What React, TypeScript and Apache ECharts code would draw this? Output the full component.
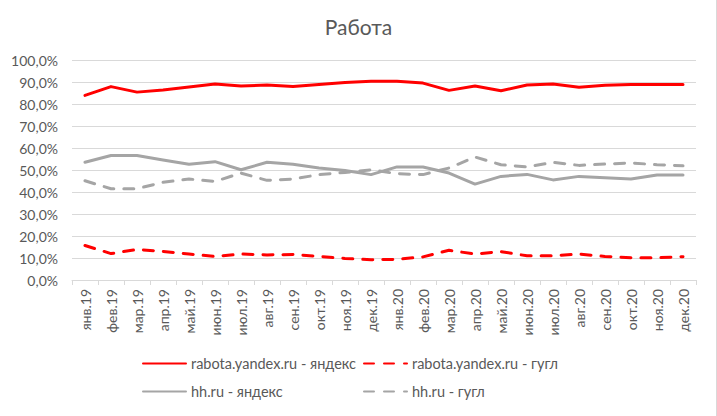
import React, { useEffect, useRef } from "react";
import * as echarts from "echarts";

const categories = [
  "янв.19", "фев.19", "мар.19", "апр.19", "май.19", "июн.19", "июл.19", "авг.19", "сен.19", "окт.19", "ноя.19", "дек.19",
  "янв.20", "фев.20", "мар.20", "апр.20", "май.20", "июн.20", "июл.20", "авг.20", "сен.20", "окт.20", "ноя.20", "дек.20",
];

const rabotaYandex = [
  83.9, 87.9, 85.4, 86.4, 87.7, 89.1, 88.2, 88.6, 88.0, 88.9, 89.8, 90.3,
  90.3, 89.5, 86.2, 88.2, 86.0, 88.6, 89.1, 87.6, 88.5, 88.9, 88.9, 88.9,
];
const rabotaGoogle = [
  15.7, 12.0, 13.9, 13.0, 11.8, 10.7, 11.8, 11.4, 11.6, 10.7, 9.8, 9.2,
  9.4, 10.5, 13.5, 11.8, 12.9, 11.0, 11.0, 11.8, 10.7, 10.1, 10.1, 10.6,
];
const hhYandex = [
  53.5, 56.6, 56.6, 54.5, 52.6, 53.8, 50.1, 53.5, 52.6, 50.9, 49.8, 47.9,
  51.4, 51.4, 48.6, 43.6, 47.1, 48.0, 45.5, 47.1, 46.5, 45.9, 47.7, 47.7,
];
const hhGoogle = [
  45.1, 41.5, 41.5, 44.4, 45.9, 44.8, 48.6, 45.3, 45.9, 47.9, 48.9, 50.1,
  48.3, 47.9, 50.9, 55.9, 52.4, 51.4, 53.5, 52.1, 52.7, 53.2, 52.4, 51.9,
];

const seriesNames = [
  "rabota.yandex.ru - яндекс",
  "rabota.yandex.ru - гугл",
  "hh.ru - яндекс",
  "hh.ru - гугл",
];

const FONT = "Lato, 'Noto Sans', sans-serif";
const TEXT = "#595959";
const RED = "#FF0000";
const GRAY = "#A5A5A5";

export default function App() {
  const ref = useRef<HTMLDivElement>(null);
  useEffect(() => {
    if (!ref.current) return;
    const chart = echarts.init(ref.current, undefined, { renderer: "svg" });
    const dash = [10, 10];
    const mkLegend = (name: string, left: number, top: number) => ({
      show: true,
      data: [name],
      left,
      top,
      orient: "horizontal",
      itemWidth: 43,
      itemHeight: 14,
      padding: 0,
      selectedMode: false,
      itemStyle: { opacity: 0 },
      textStyle: { color: TEXT, fontSize: 14.5, fontFamily: FONT },
    });
    chart.setOption({
      animation: false,
      backgroundColor: "#ffffff",
      title: {
        text: "Работа",
        left: "center",
        top: 11,
        textStyle: { color: TEXT, fontSize: 21, fontWeight: "normal", fontFamily: FONT },
      },
      legend: [
        mkLegend(seriesNames[0], 142, 356),
        mkLegend(seriesNames[1], 363, 356),
        mkLegend(seriesNames[2], 142, 384),
        mkLegend(seriesNames[3], 363, 384),
      ],
      grid: { left: 72, right: 21, top: 60, bottom: 136, containLabel: false },
      xAxis: {
        type: "category",
        data: categories,
        boundaryGap: true,
        axisLine: { lineStyle: { color: "#D9D9D9", width: 1 } },
        axisTick: { show: true, length: 5, lineStyle: { color: "#D9D9D9" } },
        axisLabel: { rotate: 90, margin: 9, color: TEXT, fontSize: 14, fontFamily: FONT, interval: 0 },
      },
      yAxis: {
        type: "value",
        min: 0,
        max: 100,
        interval: 10,
        axisLine: { show: false },
        axisTick: { show: false },
        splitLine: { lineStyle: { color: "#D9D9D9", width: 1 } },
        axisLabel: {
          margin: 14,
          color: TEXT,
          fontSize: 14,
          fontFamily: FONT,
          formatter: (v: number) => v.toFixed(1).replace(".", ",") + "%",
        },
      },
      series: [
        {
          name: seriesNames[0],
          type: "line",
          data: rabotaYandex,
          symbol: "none",
          color: RED,
          lineStyle: { color: RED, width: 3, cap: "round", join: "round" },
        },
        {
          name: seriesNames[1],
          type: "line",
          data: rabotaGoogle,
          symbol: "none",
          color: RED,
          lineStyle: { color: RED, width: 3, type: dash, cap: "round", join: "round" },
        },
        {
          name: seriesNames[2],
          type: "line",
          data: hhYandex,
          symbol: "none",
          color: GRAY,
          lineStyle: { color: GRAY, width: 3, cap: "round", join: "round" },
        },
        {
          name: seriesNames[3],
          type: "line",
          data: hhGoogle,
          symbol: "none",
          color: GRAY,
          lineStyle: { color: GRAY, width: 3, type: dash, cap: "round", join: "round" },
        },
      ],
      graphic: [
        {
          type: "line",
          shape: { x1: 716.5, y1: 0, x2: 716.5, y2: 416 },
          style: { stroke: "#D9D9D9", lineWidth: 1 },
          silent: true,
        },
      ],
    });
    return () => chart.dispose();
  }, []);
  return (
    <div
      ref={ref}
      style={{ position: "fixed", left: 0, top: 0, width: 717, height: 416 }}
    />
  );
}
